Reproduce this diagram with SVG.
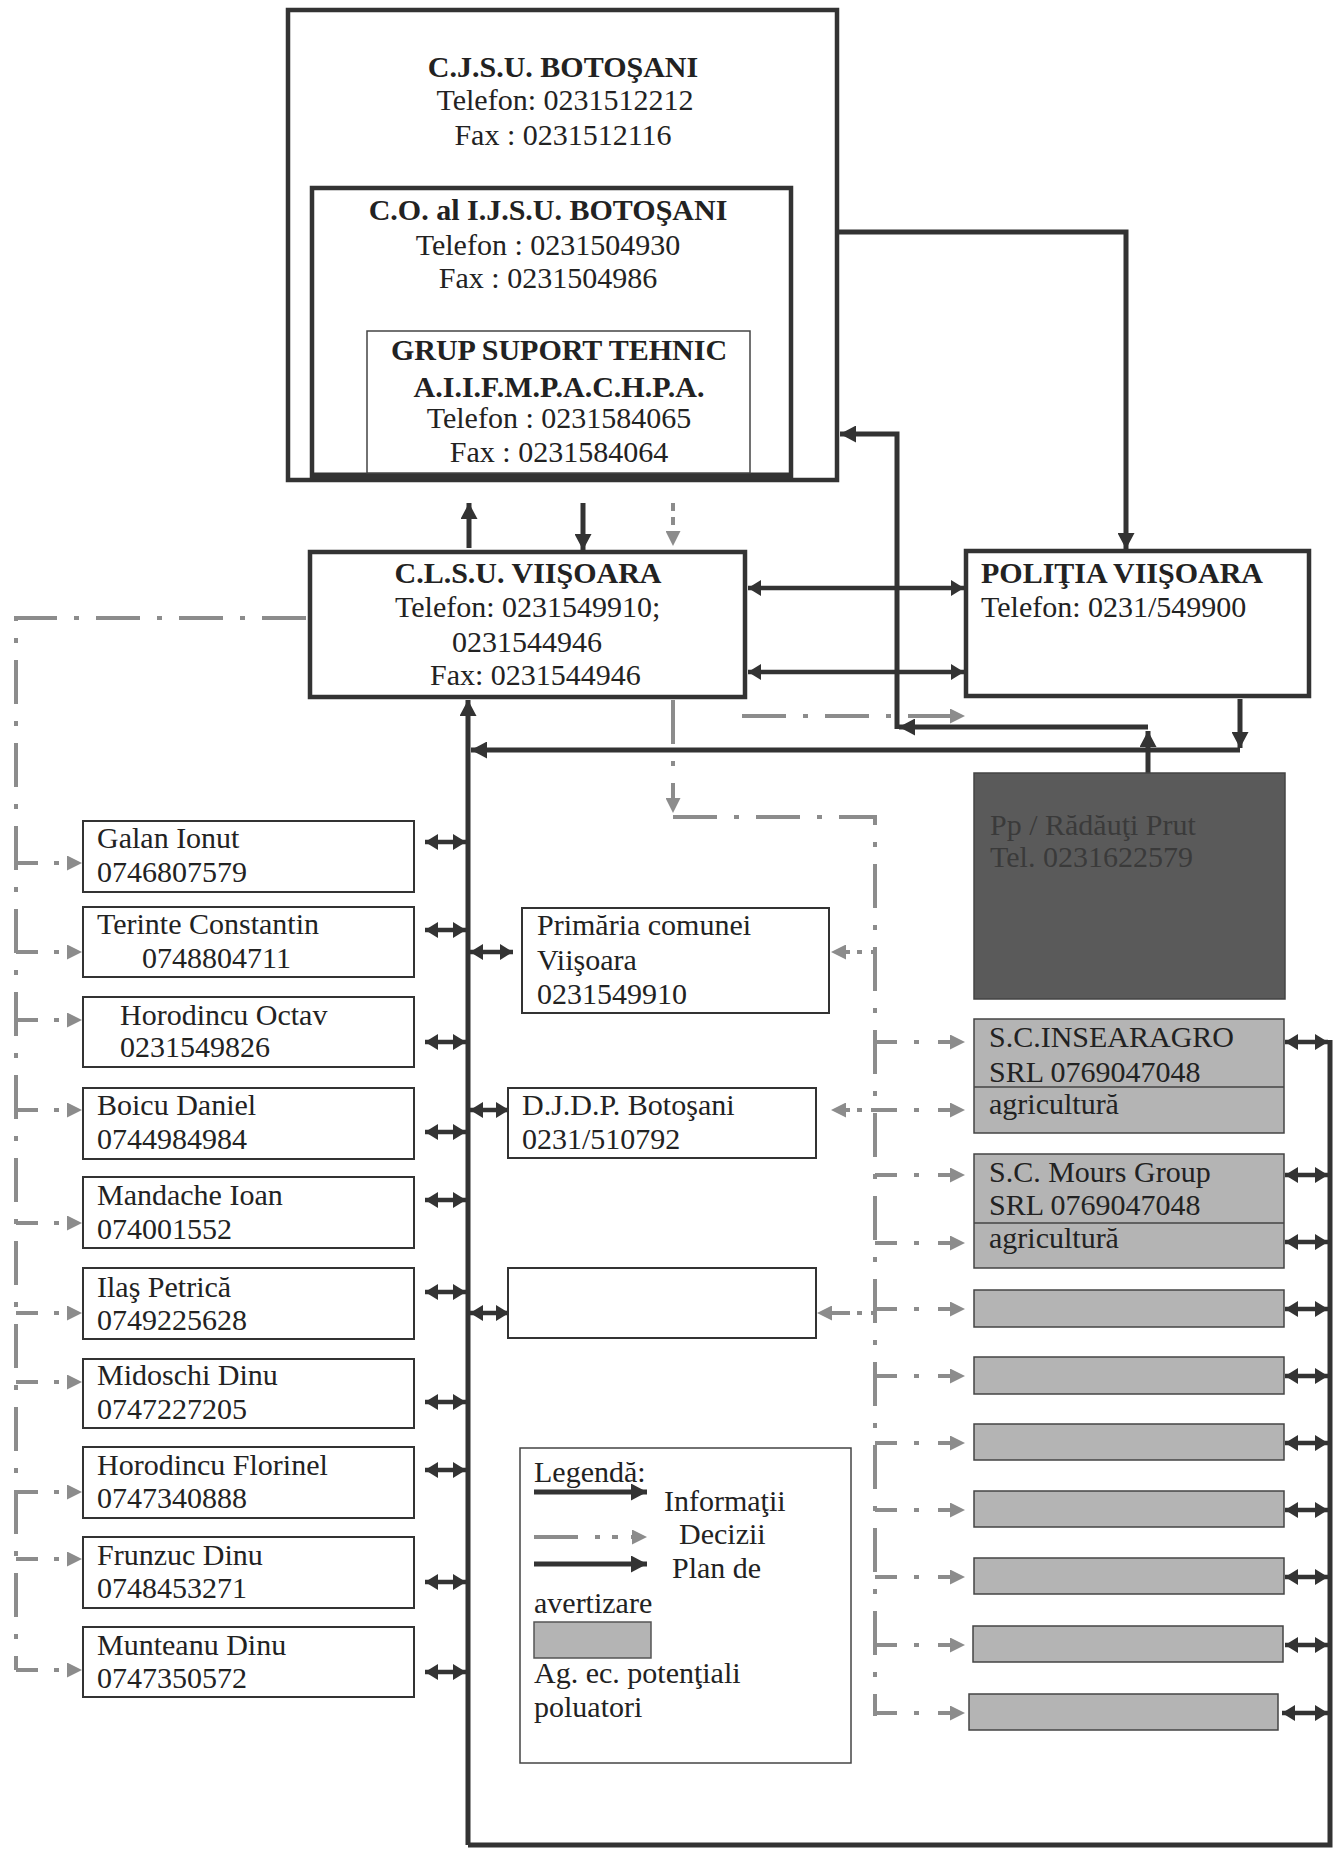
<svg xmlns="http://www.w3.org/2000/svg" width="1337" height="1849" viewBox="0 0 1337 1849">
<style>
text{font-family:"Liberation Serif","Times New Roman",serif;font-size:30px;fill:#222}
.b{font-weight:bold}
.c{text-anchor:middle}
.box{fill:#fff;stroke:#333;stroke-width:2}
.thick{fill:#fff;stroke:#333;stroke-width:4.5}
.ag{fill:#b4b4b4;stroke:#444;stroke-width:1.5}
.ln{fill:none;stroke:#333;stroke-width:5}
.dd{fill:none;stroke:#8c8c8c;stroke-width:4;stroke-dasharray:44 17 5 17}
.dbl{fill:none;stroke:#333;stroke-width:4.5;marker-start:url(#hs);marker-end:url(#hs)}
.a{marker-end:url(#ah)}
.g{fill:none;stroke:#8c8c8c;stroke-width:4;marker-end:url(#gh)}
</style>
<defs>
<marker id="ah" markerUnits="userSpaceOnUse" viewBox="0 0 16 17" markerWidth="16" markerHeight="17" refX="16" refY="8.5" orient="auto"><path d="M0,0 L16,8.5 L0,17 z" fill="#333"/></marker>
<marker id="hs" markerUnits="userSpaceOnUse" viewBox="0 0 13 16" markerWidth="13" markerHeight="16" refX="13" refY="8" orient="auto-start-reverse"><path d="M0,0 L13,8 L0,16 z" fill="#333"/></marker>
<marker id="gh" markerUnits="userSpaceOnUse" viewBox="0 0 15 15" markerWidth="15" markerHeight="15" refX="0" refY="7.5" orient="auto"><path d="M0,0 L15,7.5 L0,15 z" fill="#8c8c8c"/></marker>
</defs>

<g id="connectors">
<!-- top to CLSU -->
<path class="ln a" d="M469,548 V503"/>
<path class="ln a" d="M583,503 V550"/>
<path d="M673,503 V531" fill="none" stroke="#8c8c8c" stroke-width="4" stroke-dasharray="8 6" marker-end="url(#gh)"/>
<!-- top box to Politia -->
<path class="ln a" d="M837,232 H1126 V549"/>
<!-- CLSU <-> Politia -->
<path class="dbl" d="M748,588 H964"/>
<path class="dbl" d="M748,672 H964"/>
<!-- Politia down then left to main vertical -->
<path class="ln a" d="M1240,699 V748"/>
<path class="ln a" d="M1240,750 H471"/>
<!-- Pp up to top box -->
<path class="ln a" d="M1148,774 V731"/>
<path class="ln a" d="M1148,727 H899"/>
<path class="ln a" d="M897,729 V434 H840"/>
<!-- gray decision arrow to the right -->
<path class="dd" d="M742,716 H950" stroke-dasharray="46 17 5 17"/>
<path d="M949,716 H950" stroke="#8c8c8c" stroke-width="4" marker-end="url(#gh)"/>
<!-- main vertical and bottom loop -->
<path class="ln a" d="M468,1845 V700"/>
<path class="ln" d="M468,1845 H1330 V1040"/>
<!-- left double arrows -->
<path class="dbl" d="M425,842 H466"/>
<path class="dbl" d="M425,930 H466"/>
<path class="dbl" d="M425,1042 H466"/>
<path class="dbl" d="M425,1132 H466"/>
<path class="dbl" d="M425,1200 H466"/>
<path class="dbl" d="M425,1292 H466"/>
<path class="dbl" d="M425,1402 H466"/>
<path class="dbl" d="M425,1470 H466"/>
<path class="dbl" d="M425,1582 H466"/>
<path class="dbl" d="M425,1672 H466"/>
<!-- middle double arrows -->
<path class="dbl" d="M470,952 H513"/>
<path class="dbl" d="M470,1110 H509"/>
<path class="dbl" d="M470,1313 H509"/>
<!-- right double arrows -->
<path class="dbl" d="M1285,1042 H1328"/>
<path class="dbl" d="M1285,1175 H1328"/>
<path class="dbl" d="M1285,1242 H1328"/>
<path class="dbl" d="M1285,1309 H1328"/>
<path class="dbl" d="M1285,1376 H1328"/>
<path class="dbl" d="M1285,1443 H1328"/>
<path class="dbl" d="M1285,1510 H1328"/>
<path class="dbl" d="M1285,1577 H1328"/>
<path class="dbl" d="M1285,1645 H1328"/>
<path class="dbl" d="M1282,1713 H1328"/>
<!-- left decision tree -->
<path class="dd" d="M306,618 H16 V1670"/>
<g stroke-dasharray="22 16 5 30">
<path class="g" d="M16,863 H67"/>
<path class="g" d="M16,952 H67"/>
<path class="g" d="M16,1020 H67"/>
<path class="g" d="M16,1110 H67"/>
<path class="g" d="M16,1223 H67"/>
<path class="g" d="M16,1313 H67"/>
<path class="g" d="M16,1382 H67"/>
<path class="g" d="M16,1492 H67"/>
<path class="g" d="M16,1559 H67"/>
<path class="g" d="M16,1670 H67"/>
</g>
<!-- CLSU down and right decision tree -->
<path class="dd" d="M673,700 V798"/>
<path d="M673,797 V798" stroke="#8c8c8c" stroke-width="4" marker-end="url(#gh)"/>
<path class="dd" d="M673,817 H875 V1716"/>
<g stroke-dasharray="22 17 5 19 40">
<path class="g" d="M875,1042 H950"/>
<path class="g" d="M875,1110 H950"/>
<path class="g" d="M875,1175 H950"/>
<path class="g" d="M875,1243 H950"/>
<path class="g" d="M875,1309 H950"/>
<path class="g" d="M875,1376 H950"/>
<path class="g" d="M875,1443 H950"/>
<path class="g" d="M875,1510 H950"/>
<path class="g" d="M875,1577 H950"/>
<path class="g" d="M875,1645 H950"/>
<path class="g" d="M875,1713 H950"/>
</g>
<g stroke-dasharray="4 9 5 7 40">
<path class="g" d="M875,952 H846"/>
<path class="g" d="M875,1110 H846"/>
<path class="g" d="M875,1313 H832"/>
</g>
</g>

<g id="cjsu">
<rect class="thick" x="288" y="10" width="549" height="470"/>
<text class="b c" x="563" y="77">C.J.S.U. BOTOŞANI</text>
<text class="c" x="565" y="110">Telefon: 0231512212</text>
<text class="c" x="563" y="145">Fax : 0231512116</text>
</g>
<g id="co-ijsu">
<rect class="thick" x="312" y="188" width="479" height="290"/>
<line x1="312" y1="476" x2="791" y2="476" stroke="#333" stroke-width="7"/>
<text class="b c" x="548" y="220">C.O. al I.J.S.U. BOTOŞANI</text>
<text class="c" x="548" y="255">Telefon : 0231504930</text>
<text class="c" x="548" y="288">Fax : 0231504986</text>
</g>
<g id="grup-suport">
<rect x="367" y="331" width="383" height="142" fill="#fff" stroke="#444" stroke-width="1.5"/>
<text class="b c" x="559" y="360">GRUP SUPORT TEHNIC</text>
<text class="b c" x="559" y="397">A.I.I.F.M.P.A.C.H.P.A.</text>
<text class="c" x="559" y="428">Telefon : 0231584065</text>
<text class="c" x="559" y="462">Fax : 0231584064</text>
</g>

<g id="clsu">
<rect class="thick" x="310" y="552" width="435" height="145"/>
<text class="b c" x="528" y="583">C.L.S.U. VIIŞOARA</text>
<text x="395" y="617">Telefon: 0231549910;</text>
<text x="452" y="652">0231544946</text>
<text x="430" y="685">Fax: 0231544946</text>
</g>
<g id="politia">
<rect class="thick" x="966" y="551" width="343" height="145"/>
<text class="b" x="981" y="583">POLIŢIA VIIŞOARA</text>
<text x="981" y="617">Telefon: 0231/549900</text>
</g>
<g id="pp-radauti">
<rect x="974" y="773" width="311" height="226" fill="#5a5a5a" stroke="#444" stroke-width="1.5"/>
<text x="990" y="835" style="fill:#3a3a3a">Pp / Rădăuţi Prut</text>
<text x="990" y="867" style="fill:#3a3a3a">Tel. 0231622579</text>
</g>

<g id="galan"><rect class="box" x="83" y="821" width="331" height="71"/><text x="97" y="848">Galan Ionut</text><text x="97" y="882">0746807579</text></g>
<g id="terinte"><rect class="box" x="83" y="907" width="331" height="70"/><text x="97" y="934">Terinte Constantin</text><text x="142" y="968">0748804711</text></g>
<g id="horodincu-octav"><rect class="box" x="83" y="997" width="331" height="70"/><text x="120" y="1025">Horodincu Octav</text><text x="120" y="1057">0231549826</text></g>
<g id="boicu"><rect class="box" x="83" y="1088" width="331" height="71"/><text x="97" y="1115">Boicu Daniel</text><text x="97" y="1149">0744984984</text></g>
<g id="mandache"><rect class="box" x="83" y="1177" width="331" height="71"/><text x="97" y="1205">Mandache Ioan</text><text x="97" y="1239">074001552</text></g>
<g id="ilas"><rect class="box" x="83" y="1268" width="331" height="71"/><text x="97" y="1297">Ilaş Petrică</text><text x="97" y="1330">0749225628</text></g>
<g id="midoschi"><rect class="box" x="83" y="1359" width="331" height="69"/><text x="97" y="1385">Midoschi Dinu</text><text x="97" y="1419">0747227205</text></g>
<g id="horodincu-florinel"><rect class="box" x="83" y="1447" width="331" height="71"/><text x="97" y="1475">Horodincu Florinel</text><text x="97" y="1508">0747340888</text></g>
<g id="frunzuc"><rect class="box" x="83" y="1537" width="331" height="71"/><text x="97" y="1565">Frunzuc Dinu</text><text x="97" y="1598">0748453271</text></g>
<g id="munteanu"><rect class="box" x="83" y="1627" width="331" height="70"/><text x="97" y="1655">Munteanu Dinu</text><text x="97" y="1688">0747350572</text></g>

<g id="primaria"><rect class="box" x="522" y="908" width="307" height="105"/><text x="537" y="935">Primăria comunei</text><text x="537" y="970">Viişoara</text><text x="537" y="1004">0231549910</text></g>
<g id="djdp"><rect class="box" x="508" y="1088" width="308" height="70"/><text x="522" y="1115">D.J.D.P. Botoşani</text><text x="522" y="1149">0231/510792</text></g>
<g id="empty-box"><rect class="box" x="508" y="1268" width="308" height="70"/></g>

<g id="insearagro"><rect class="ag" x="974" y="1019" width="310" height="114"/><line x1="974" y1="1087" x2="1284" y2="1087" stroke="#444" stroke-width="1.5"/><text x="989" y="1047">S.C.INSEARAGRO</text><text x="989" y="1082">SRL 0769047048</text><text x="989" y="1114">agricultură</text></g>
<g id="mours"><rect class="ag" x="974" y="1154" width="310" height="114"/><line x1="974" y1="1223" x2="1284" y2="1223" stroke="#444" stroke-width="1.5"/><text x="989" y="1182">S.C. Mours Group</text><text x="989" y="1215">SRL 0769047048</text><text x="989" y="1248">agricultură</text></g>
<g id="agent-1"><rect class="ag" x="974" y="1290" width="310" height="37"/></g>
<g id="agent-2"><rect class="ag" x="974" y="1357" width="310" height="37"/></g>
<g id="agent-3"><rect class="ag" x="974" y="1424" width="310" height="36"/></g>
<g id="agent-4"><rect class="ag" x="974" y="1491" width="310" height="36"/></g>
<g id="agent-5"><rect class="ag" x="974" y="1558" width="310" height="36"/></g>
<g id="agent-6"><rect class="ag" x="973" y="1626" width="310" height="36"/></g>
<g id="agent-7"><rect class="ag" x="969" y="1694" width="309" height="36"/></g>

<g id="legend">
<rect x="520" y="1448" width="331" height="315" fill="#fff" stroke="#444" stroke-width="1.5"/>
<text x="534" y="1482">Legendă:</text>
<path d="M534,1492 H647" stroke="#333" stroke-width="5" marker-end="url(#ah)"/>
<text x="664" y="1511">Informaţii</text>
<path d="M534,1537 H618" fill="none" stroke="#8c8c8c" stroke-width="4" stroke-dasharray="44 17 5 12 40"/>
<path d="M631,1537 H632" stroke="#8c8c8c" stroke-width="4" marker-end="url(#gh)"/>
<text x="679" y="1544">Decizii</text>
<path d="M534,1564 H647" stroke="#333" stroke-width="5" marker-end="url(#ah)"/>
<text x="672" y="1578">Plan de</text>
<text x="534" y="1613">avertizare</text>
<rect x="534" y="1622" width="117" height="36" fill="#b4b4b4" stroke="#555" stroke-width="1.5"/>
<text x="534" y="1683">Ag. ec. potenţiali</text>
<text x="534" y="1717">poluatori</text>
</g>
</svg>
